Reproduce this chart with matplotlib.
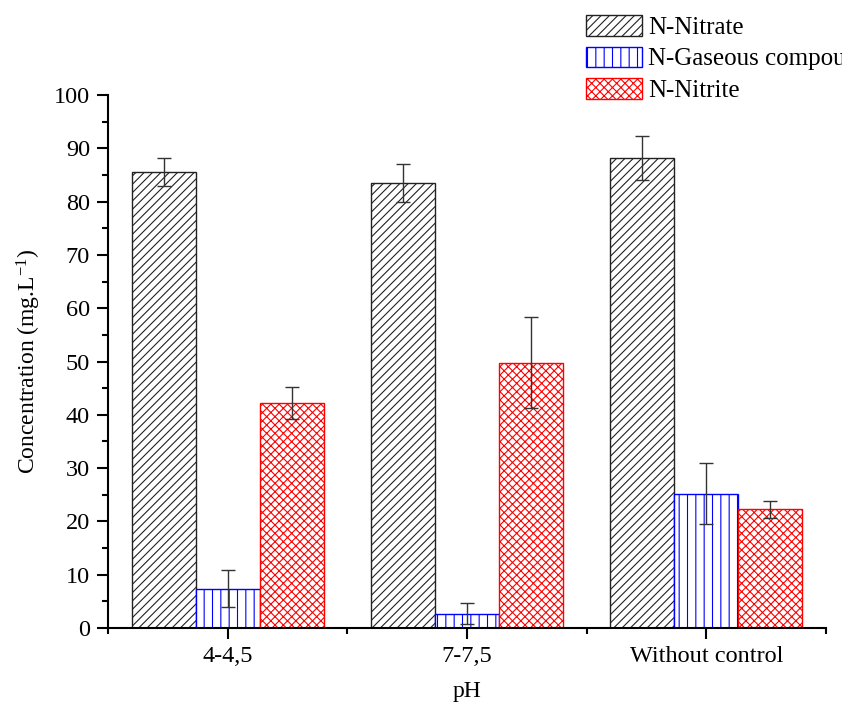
import numpy as np
import matplotlib
matplotlib.use("Agg")
import matplotlib.pyplot as plt
from matplotlib.ticker import MultipleLocator, FixedLocator

plt.rcParams['font.family'] = ['Liberation Serif', 'DejaVu Serif']
plt.rcParams['mathtext.fontset'] = 'custom'
plt.rcParams['mathtext.rm'] = 'Liberation Serif'
plt.rcParams['mathtext.it'] = 'Liberation Serif:italic'
plt.rcParams['hatch.linewidth'] = 0.8

categories = ["4-4,5", "7-7,5", "Without control"]
series_names = ["N-Nitrate", "N-Gaseous compounds", "N-Nitrite"]
nitrate = [85.6, 83.5, 88.2]
nitrate_err = [2.6, 3.6, 4.2]
gaseous = [7.4, 2.7, 25.2]
gaseous_err = [3.5, 2.0, 5.7]
nitrite = [42.3, 49.8, 22.3]
nitrite_err = [3.0, 8.5, 1.6]

values = [nitrate, gaseous, nitrite]
errors = [nitrate_err, gaseous_err, nitrite_err]
edge_colors = ["#222222", "#0000ff", "#ff0000"]
hatches = ["////", "||", "xxxx"]

fig = plt.figure(figsize=(8.42, 7.13), dpi=100)
ax = fig.add_axes([108 / 842, 1 - 628 / 713, (826 - 108) / 842, (628 - 95) / 713])

x = np.arange(1, len(categories) + 1)
width = 0.267
for i, (vals, errs) in enumerate(zip(values, errors)):
    pos = x + (i - 1) * width
    ax.bar(pos, vals, width, facecolor="white", edgecolor=edge_colors[i],
           hatch=hatches[i], linewidth=1.0, label=series_names[i], zorder=2)
    ax.errorbar(pos, vals, yerr=errs, fmt="none", ecolor="#333333",
                elinewidth=1.0, capsize=5, capthick=1.0, zorder=3)

ax.set_xlim(0.5, 3.5)
ax.set_ylim(0, 100)
ax.spines["top"].set_visible(False)
ax.spines["right"].set_visible(False)
ax.spines["left"].set_linewidth(1.5)
ax.spines["bottom"].set_linewidth(1.5)

ax.set_xticks(x)
ax.set_xticklabels(categories)
ax.xaxis.set_minor_locator(FixedLocator([0.5, 1.5, 2.5, 3.5]))
ax.yaxis.set_major_locator(MultipleLocator(10))
ax.yaxis.set_minor_locator(MultipleLocator(5))
ax.tick_params(axis="both", which="major", direction="out", length=8, width=1.5,
               labelsize=17.5, pad=5)
ax.tick_params(axis="both", which="minor", direction="out", length=4, width=1.5)

ax.set_ylabel("Concentration (mg.L$^{-1}$)", fontsize=17, labelpad=8)
ax.set_xlabel("pH", fontsize=17, labelpad=10)

leg = ax.legend(loc="upper left", bbox_to_anchor=(586 / 842, 1 - 15 / 713),
                bbox_transform=fig.transFigure, frameon=False, fontsize=18,
                handlelength=2.25, handleheight=0.9, handletextpad=0.25,
                labelspacing=0.3, borderaxespad=0, borderpad=0)

fig.savefig("out.png", dpi=100, facecolor="white")
